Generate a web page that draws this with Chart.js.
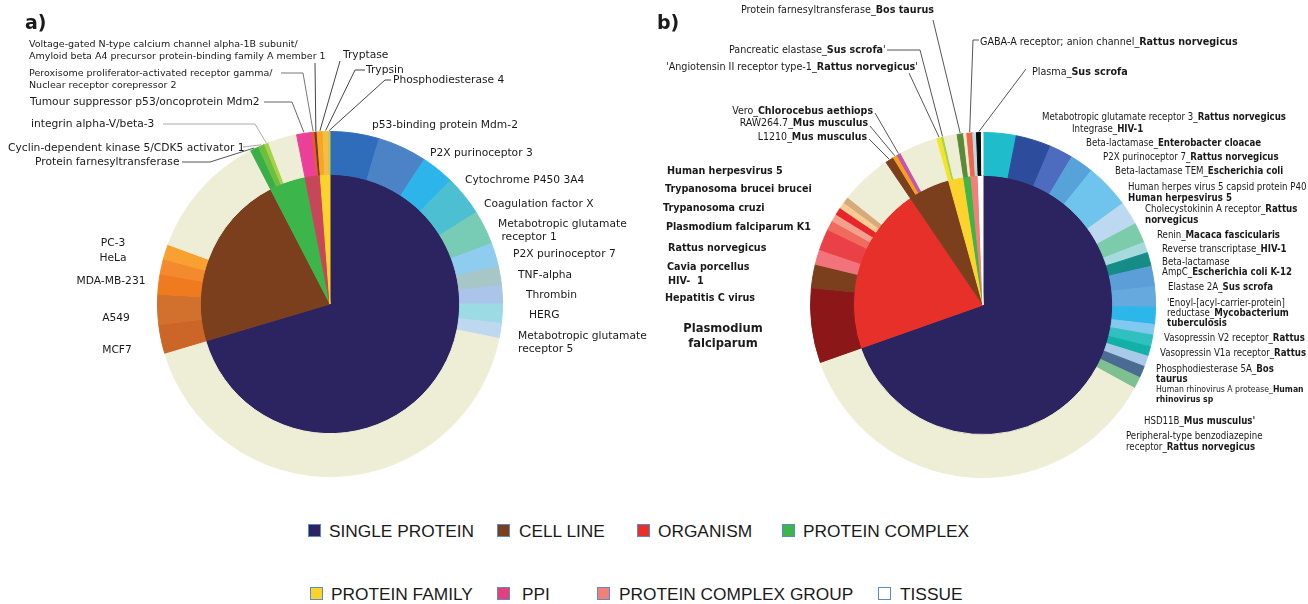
<!DOCTYPE html>
<html>
<head>
<meta charset="utf-8">
<title>Target types</title>
<script src="https://cdn.jsdelivr.net/npm/chart.js@4.4.1/dist/chart.umd.min.js"></script>
<style>
  body { margin: 0; background: #ffffff; }
  #page { position: relative; width: 1308px; height: 604px; overflow: hidden; }
  #page canvas { position: absolute; top: 0; }
  .panel { position: absolute; top: 11px; font: bold 19px 'DejaVu Sans'; color: #1a1a1a; line-height: 22px; }
  .legText { position: absolute; font: 17.3px 'Liberation Sans'; color: #1a1a1a; line-height: 18px; white-space: nowrap; }
  .legBox { position: absolute; width: 11px; height: 11px; border: 1px solid #5b8bc6; }
</style>
</head>
<body>
<div id="page">
  <canvas id="chartA" width="654" height="500" style="left:0"></canvas>
  <canvas id="chartB" width="654" height="500" style="left:654px"></canvas>
  <div class="panel" style="left:25px">a)</div>
  <div class="panel" style="left:657px">b)</div>
</div>
<script>
// ---------- a) target types (inner) and top targets (outer) ----------
var aTypes = ['SINGLE PROTEIN', 'CELL LINE', 'PROTEIN COMPLEX', 'PPI', 'PROTEIN FAMILY'];
var aTypeValues = [70.4, 22.0, 4.5, 1.9, 1.2];
var aTargets = [
  'p53-binding protein Mdm-2', 'P2X purinoceptor 3', 'Cytochrome P450 3A4', 'Coagulation factor X',
  'Metabotropic glutamate receptor 1', 'P2X purinoceptor 7', 'TNF-alpha', 'Thrombin', 'HERG',
  'Metabotropic glutamate receptor 5', 'Other single proteins',
  'MCF7', 'A549', 'MDA-MB-231', 'HeLa', 'PC-3', 'Other cell lines',
  'Protein farnesyltransferase', 'Cyclin-dependent kinase 5/CDK5 activator 1', 'integrin alpha-V/beta-3', 'Other protein complexes',
  'Tumour suppressor p53/oncoprotein Mdm2',
  'Peroxisome proliferator-activated receptor gamma/Nuclear receptor corepressor 2',
  'Voltage-gated N-type calcium channel alpha-1B subunit/Amyloid beta A4 precursor protein-binding family A member 1',
  'Tryptase', 'Trypsin', 'Phosphodiesterase 4'
];
var aTargetValues = [
  4.6, 4.6, 3.1, 3.8, 3.2, 2.2, 1.8, 1.7, 1.8, 1.4, 42.2,
  2.7, 2.8, 1.9, 1.4, 1.4, 11.8,
  0.8, 0.6, 0.4, 2.7,
  1.4, 0.3, 0.2,
  0.55, 0.5, 0.15
];

// ---------- b) target types (inner) and top targets (outer) ----------
var bTypes = ['SINGLE PROTEIN', 'ORGANISM', 'CELL LINE', 'PROTEIN FAMILY', 'PROTEIN COMPLEX', 'PROTEIN COMPLEX GROUP', 'TISSUE'];
var bTypeValues = [69.6, 20.9, 5.2, 1.9, 0.9, 0.9, 0.6];
var bTargets = [
  'Metabotropic glutamate receptor 3_Rattus norvegicus', 'Integrase_HIV-1', 'Beta-lactamase_Enterobacter cloacae',
  'P2X purinoceptor 7_Rattus norvegicus', 'Beta-lactamase TEM_Escherichia coli',
  'Human herpes virus 5 capsid protein P40_Human herpesvirus 5', 'Cholecystokinin A receptor_Rattus norvegicus',
  'Renin_Macaca fascicularis', 'Reverse transcriptase_HIV-1', 'Beta-lactamase AmpC_Escherichia coli K-12',
  'Elastase 2A_Sus scrofa', 'Enoyl-[acyl-carrier-protein] reductase_Mycobacterium tuberculosis',
  'Vasopressin V2 receptor_Rattus', 'Vasopressin V1a receptor_Rattus', 'Phosphodiesterase 5A_Bos taurus',
  'Human rhinovirus A protease_Human rhinovirus sp', 'HSD11B_Mus musculus',
  'Peripheral-type benzodiazepine receptor_Rattus norvegicus', 'Other single proteins',
  'Plasmodium falciparum', 'Hepatitis C virus', 'HIV- 1', 'Cavia porcellus', 'Rattus norvegicus',
  'Plasmodium falciparum K1', 'Trypanosoma cruzi', 'Trypanosoma brucei brucei', 'Human herpesvirus 5', 'Other organisms',
  'L1210_Mus musculus', 'RAW264.7_Mus musculus', 'Vero_Chlorocebus aethiops', 'Other cell lines',
  'Angiotensin II receptor type-1_Rattus norvegicus', 'Pancreatic elastase_Sus scrofa', 'Other protein families',
  'Protein farnesyltransferase_Bos taurus', 'Other protein complexes',
  'GABA-A receptor; anion channel_Rattus norvegicus', 'Other protein complex groups',
  'Plasma_Sus scrofa', 'Other tissues'
];
var bTargetValues = [
  3.1, 3.3, 2.2, 2.2, 4.2, 2.2, 1.9, 1.0, 1.3, 1.9, 1.9, 1.6, 1.0, 1.1, 0.9, 1.0, 1.1, 1.1, 36.6,
  7.0, 2.2, 1.4, 2.0, 0.9, 0.7, 0.7, 0.6, 0.6, 4.8,
  0.8, 0.4, 0.4, 3.6,
  0.45, 0.2, 1.25,
  0.6, 0.3,
  0.55, 0.35,
  0.45, 0.15
];

// ---------- legend ----------
var legendNames = ['SINGLE PROTEIN', 'CELL LINE', 'ORGANISM', 'PROTEIN COMPLEX', 'PROTEIN FAMILY', 'PPI', 'PROTEIN COMPLEX GROUP', 'TISSUE'];

// colours
var OTHER = '#eeedd6';
var typeColor = {
  'SINGLE PROTEIN': '#2c2361', 'CELL LINE': '#7b3f1e', 'ORGANISM': '#e8302a', 'PROTEIN COMPLEX': '#3cb54a',
  'PROTEIN FAMILY': '#fcd22c', 'PPI': '#e2417c', 'PROTEIN COMPLEX GROUP': '#f08078', 'TISSUE': '#ffffff'
};
var aInnerColors = ['#2c2361', '#7b3f1e', '#3cb54a', '#c8465a', '#fcd22c'];
var aOuterColors = [
  '#2f6dba', '#4b83c6', '#2db4ea', '#4cc0d2', '#78cbb4', '#8ecdf0', '#a6c6c8', '#aac4ea', '#9cdbe4', '#bed8f0', OTHER,
  '#cb6628', '#d2702e', '#f07a20', '#f48a2e', '#f8a030', OTHER,
  '#3aae48', '#6cbf40', '#a8d048', OTHER,
  '#ec3f97', '#e8563e', '#6b3a2a',
  '#f5a623', '#f8bb45', '#c8c850'
];
var bInnerColors = ['#2c2361', '#e8302a', '#7b3f1e', '#fcd22c', '#3cb54a', '#f08078', '#ffffff'];
var bOuterColors = [
  '#1fbccb', '#2e4c9c', '#4d6bbf', '#58a2da', '#6ec4ec', '#bcd9f1', '#7ccbaa', '#a6dadf', '#158c86', '#5b9ed8',
  '#66a9de', '#2cb6ea', '#82c8ef', '#2fc0bf', '#12b0a6', '#a9c9e8', '#4a6b92', '#7fc093', OTHER,
  '#8b1719', '#7b3f1e', '#f2737c', '#ea4048', '#f06a5e', '#f4a08e', '#e8262a', '#f9cc95', '#d6aa7a', OTHER,
  '#7b3f1e', '#f5a01e', '#c455a8', OTHER,
  '#f0e52a', '#a5d24a', OTHER,
  '#5b8a3a', OTHER,
  '#f26449', '#b5dbe8',
  '#0a0a0a', '#ffffff'
];

// label placement (page coordinates), *...* = bold
var FONT_A = "'DejaVu Sans'";
var FONT_B = "'DejaVu Sans Condensed', 'DejaVu Sans'";
var aLabels = [
  { name: aTargets[23], x: 29, y: 45, size: 9.5, lh: 11.5, lines: ['Voltage-gated N-type calcium channel alpha-1B subunit/', 'Amyloid beta A4 precursor protein-binding family A member 1'], lead: [[315, 63]], lc: '#444' },
  { name: 'Tryptase', x: 343, y: 55, lines: ['Tryptase'], lead: [[340, 61]], lc: '#444' },
  { name: 'Trypsin', x: 366, y: 70, lines: ['Trypsin'], lead: [[365, 70], [355, 70]], lc: '#444' },
  { name: 'Phosphodiesterase 4', x: 393, y: 80, lines: ['Phosphodiesterase 4'], lead: [[391, 80], [385, 80]], lc: '#444' },
  { name: aTargets[22], x: 29, y: 74, size: 9.5, lh: 11.5, lines: ['Peroxisome proliferator-activated receptor gamma/', 'Nuclear receptor corepressor 2'], lead: [[281, 73], [303, 73]], lc: '#777' },
  { name: 'Tumour suppressor p53/oncoprotein Mdm2', x: 30, y: 102, lines: ['Tumour suppressor p53/oncoprotein Mdm2'], lead: [[264, 102], [292, 102]], lc: '#666' },
  { name: 'integrin alpha-V/beta-3', x: 31, y: 124, lines: ['integrin alpha-V/beta-3'], lead: [[163, 124], [255, 124]], lc: '#aaa' },
  { name: 'Cyclin-dependent kinase 5/CDK5 activator 1', x: 8, y: 148, lines: ['Cyclin-dependent kinase 5/CDK5 activator 1'], lead: [[243, 147]], lc: '#aaa' },
  { name: 'Protein farnesyltransferase', x: 35, y: 162, lines: ['Protein farnesyltransferase'], lead: [[182, 162], [210, 162]], lc: '#555' },
  { x: 372, y: 125, lines: ['p53-binding protein Mdm-2'] },
  { x: 430, y: 153, lines: ['P2X purinoceptor 3'] },
  { x: 465, y: 180, lines: ['Cytochrome P450 3A4'] },
  { x: 484, y: 204, lines: ['Coagulation factor X'] },
  { x: 498, y: 224, lh: 13, lines: ['Metabotropic glutamate', ' receptor 1'] },
  { x: 513, y: 254, lines: ['P2X purinoceptor 7'] },
  { x: 518, y: 275, lines: ['TNF-alpha'] },
  { x: 526, y: 295, lines: ['Thrombin'] },
  { x: 529, y: 315, lines: ['HERG'] },
  { x: 518, y: 336, lh: 13, lines: ['Metabotropic glutamate', 'receptor 5'] },
  { x: 113, y: 243, align: 'center', lines: ['PC-3'] },
  { x: 113, y: 258, align: 'center', lines: ['HeLa'] },
  { x: 111, y: 281, align: 'center', lines: ['MDA-MB-231'] },
  { x: 116, y: 318, align: 'center', lines: ['A549'] },
  { x: 117, y: 350, align: 'center', lines: ['MCF7'] }
];
var bLabels = [
  { name: 'Protein farnesyltransferase_Bos taurus', x: 741, y: 10, size: 10.7, lines: ['Protein farnesyltransferase_*Bos taurus*'], lead: [[933, 20]] },
  { name: 'Pancreatic elastase_Sus scrofa', x: 729, y: 50, size: 10.7, lines: ["Pancreatic elastase_*Sus scrofa*'"], lead: [[887, 50], [920, 50]] },
  { name: 'Angiotensin II receptor type-1_Rattus norvegicus', x: 666, y: 67, size: 10.7, lines: ["'Angiotensin II receptor type-1_*Rattus norvegicus*'"], lead: [[909, 73]] },
  { name: 'GABA-A receptor; anion channel_Rattus norvegicus', x: 980, y: 42, size: 10.7, lines: ['GABA-A receptor; anion channel_*Rattus norvegicus*'], lead: [[979, 40], [973, 40]] },
  { name: 'Plasma_Sus scrofa', x: 1032, y: 72, size: 10.7, lines: ['Plasma_*Sus scrofa*'], lead: [[1026, 69]] },
  { name: 'Vero_Chlorocebus aethiops', x: 873, y: 111, size: 10.5, align: 'right', lines: ['Vero_*Chlorocebus aethiops*'], lead: [[875, 113]] },
  { name: 'RAW264.7_Mus musculus', x: 868, y: 123, size: 10.5, align: 'right', lines: ['RAW264.7_*Mus musculus*'], lead: [[870, 126]] },
  { name: 'L1210_Mus musculus', x: 867, y: 137, size: 10.5, align: 'right', lines: ['L1210_*Mus musculus*'], lead: [[869, 139]] },
  { x: 667, y: 171, size: 10.7, lines: ['*Human herpesvirus 5*'] },
  { x: 665, y: 189, size: 10.7, lines: ['*Trypanosoma brucei brucei*'] },
  { x: 663, y: 208, size: 10.7, lines: ['*Trypanosoma cruzi*'] },
  { x: 666, y: 227, size: 10.7, lines: ['*Plasmodium falciparum K1*'] },
  { x: 668, y: 248, size: 10.7, lines: ['*Rattus norvegicus*'] },
  { x: 667, y: 267, size: 10.7, lines: ['*Cavia porcellus*'] },
  { x: 668, y: 281, size: 10.7, lines: ['*HIV-  1*'] },
  { x: 665, y: 298, size: 10.7, lines: ['*Hepatitis C virus*'] },
  { x: 723, y: 329, size: 12.8, lh: 14.5, align: 'center', lines: ['*Plasmodium*', '*falciparum*'] },
  { x: 1042, y: 117, lines: ['Metabotropic glutamate receptor 3_*Rattus norvegicus*'] },
  { x: 1072, y: 129, lines: ['Integrase_*HIV-1*'] },
  { x: 1086, y: 143, lines: ['Beta-lactamase_*Enterobacter cloacae*'] },
  { x: 1103, y: 157, lines: ['P2X purinoceptor 7_*Rattus norvegicus*'] },
  { x: 1115, y: 171, lines: ['Beta-lactamase TEM_*Escherichia coli*'] },
  { x: 1128, y: 187, lh: 11, lines: ['Human herpes virus 5 capsid protein P40', '*Human herpesvirus 5*'] },
  { x: 1145, y: 209, lh: 11, lines: ['Cholecystokinin A receptor_*Rattus*', '*norvegicus*'] },
  { x: 1157, y: 235, lines: ['Renin_*Macaca fascicularis*'] },
  { x: 1162, y: 249, lines: ['Reverse transcriptase_*HIV-1*'] },
  { x: 1162, y: 262, lh: 10.5, lines: ['Beta-lactamase', 'AmpC_*Escherichia coli K-12*'] },
  { x: 1168, y: 287, lines: ['Elastase 2A_*Sus scrofa*'] },
  { x: 1167, y: 303, lh: 10, lines: ["'Enoyl-[acyl-carrier-protein]", 'reductase_*Mycobacterium*', '*tuberculosis*'] },
  { x: 1164, y: 338, lines: ['Vasopressin V2 receptor_*Rattus*'] },
  { x: 1160, y: 353, lines: ['Vasopressin V1a receptor_*Rattus*'] },
  { x: 1156, y: 369, lh: 10.5, lines: ['Phosphodiesterase 5A_*Bos*', '*taurus*'] },
  { x: 1156, y: 390, size: 8.6, lh: 10, lines: ['Human rhinovirus A protease_*Human*', '*rhinovirus sp*'] },
  { x: 1144, y: 421, lines: ["HSD11B_*Mus musculus'*"] },
  { x: 1126, y: 436, lh: 11, lines: ['Peripheral-type benzodiazepine', 'receptor_*Rattus norvegicus*'] }
];
var legendBoxX = [308, 497, 637, 782, 310, 497, 597, 878];
var legendTextX = [329, 519, 658, 803, 331, 522, 619, 900];
var legendY = [531, 531, 531, 531, 594, 594, 594, 594];

function drawRich(ctx, text, x, y, size, align, family) {
  var parts = text.split('*');
  var fonts = parts.map(function (p, k) { return (k % 2 ? 'bold ' : '') + size + 'px ' + family; });
  var w = 0;
  parts.forEach(function (p, k) { ctx.font = fonts[k]; w += ctx.measureText(p).width; });
  var cx = align === 'right' ? x - w : (align === 'center' ? x - w / 2 : x);
  parts.forEach(function (p, k) {
    ctx.font = fonts[k];
    ctx.fillText(p, cx, y);
    cx += ctx.measureText(p).width;
  });
}

function labelPlugin(items, names, offsetX, family, size, lh) {
  return {
    id: 'sliceLabels',
    afterDatasetsDraw: function (chart) {
      var ctx = chart.ctx;
      var arcs = chart.getDatasetMeta(0).data;
      ctx.save();
      ctx.textBaseline = 'middle';
      ctx.textAlign = 'left';
      ctx.lineWidth = 1;
      items.forEach(function (it) {
        if (it.lead) {
          var arc = arcs[names.indexOf(it.name)];
          var mid = (arc.startAngle + arc.endAngle) / 2;
          var r = arc.outerRadius + 1;
          ctx.strokeStyle = it.lc || '#555';
          ctx.beginPath();
          it.lead.forEach(function (p, k) {
            if (k === 0) ctx.moveTo(p[0] - offsetX, p[1]); else ctx.lineTo(p[0] - offsetX, p[1]);
          });
          ctx.lineTo(arc.x + Math.cos(mid) * r, arc.y + Math.sin(mid) * r);
          ctx.stroke();
        }
        ctx.fillStyle = '#1a1a1a';
        it.lines.forEach(function (line, k) {
          drawRich(ctx, line, it.x - offsetX, it.y + k * (it.lh || lh), it.size || size, it.align || 'left', family);
        });
      });
      ctx.restore();
    }
  };
}

function sunburst(id, innerVals, innerCols, outer, outerVals, outerCols, pad, plugin) {
  return new Chart(document.getElementById(id).getContext('2d'), {
    type: 'doughnut',
    data: {
      labels: outer,
      datasets: [
        { data: outerVals, backgroundColor: outerCols, borderColor: outerCols, borderWidth: 1, weight: 43, hoverOffset: 0 },
        { data: innerVals, backgroundColor: innerCols, borderColor: innerCols, borderWidth: 1, weight: 130, hoverOffset: 0 }
      ]
    },
    options: {
      responsive: false,
      animation: false,
      events: [],
      cutout: 0,
      layout: { padding: pad },
      plugins: { legend: { display: false }, tooltip: { enabled: false } }
    },
    plugins: [plugin]
  });
}

sunburst('chartA', aTypeValues, aInnerColors, aTargets, aTargetValues, aOuterColors,
  { left: 157, right: 151, top: 131, bottom: 23 },
  labelPlugin(aLabels, aTargets, 0, FONT_A, 10.7, 12));

sunburst('chartB', bTypeValues, bInnerColors, bTargets, bTargetValues, bOuterColors,
  { left: 156, right: 152, top: 132, bottom: 22 },
  labelPlugin(bLabels, bTargets, 654, FONT_B, 9.6, 11));

// shared legend
var page = document.getElementById('page');
legendNames.forEach(function (name, k) {
  var box = document.createElement('div');
  box.className = 'legBox';
  box.style.left = legendBoxX[k] + 'px';
  box.style.top = (legendY[k] - 7) + 'px';
  box.style.background = typeColor[name];
  page.appendChild(box);
  var txt = document.createElement('div');
  txt.className = 'legText';
  txt.style.left = legendTextX[k] + 'px';
  txt.style.top = (legendY[k] - 9) + 'px';
  txt.textContent = name;
  page.appendChild(txt);
});
</script>
</body>
</html>
